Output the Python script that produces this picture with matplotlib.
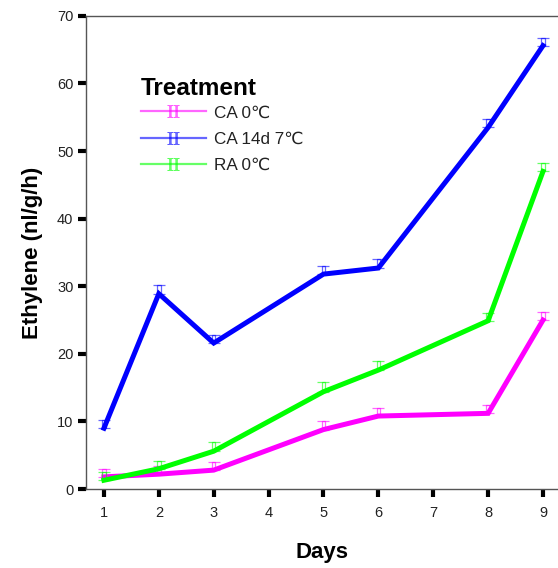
"""
Ethylene production over storage days, three treatments with upper error bars.
Output: out.png
"""

import matplotlib.pyplot as plt
from matplotlib.lines import Line2D

plt.rcParams["font.family"] = ["Liberation Sans", "DejaVu Sans"]
plt.rcParams["mathtext.fontset"] = "stix"

DAYS = [1, 2, 3, 5, 6, 8, 9]

TREATMENTS = ["CA 0\u2103", "CA 14d 7\u2103", "RA 0\u2103"]
COLORS = ["#ff00ff", "#0000ff", "#00ff00"]

CA_0 = [1.8, 2.2, 2.8, 8.8, 10.8, 11.2, 25.0]
CA_0_ERR = [1.2, 1.2, 1.2, 1.3, 1.2, 1.2, 1.2]

CA_14D_7 = [9.0, 28.9, 21.6, 31.8, 32.7, 53.5, 65.6]
CA_14D_7_ERR = [1.2, 1.3, 1.2, 1.2, 1.3, 1.2, 1.2]

RA_0 = [1.3, 3.0, 5.6, 14.4, 17.6, 24.9, 47.0]
RA_0_ERR = [1.2, 1.2, 1.3, 1.4, 1.3, 1.2, 1.2]

X_TICKS = list(range(1, 10))
Y_TICKS = list(range(0, 71, 10))


def main():
    fig = plt.figure(figsize=(5.58, 5.68), dpi=100)
    ax = fig.add_axes([0.154, 0.139, 0.846, 0.833])

    series = [(CA_0, CA_0_ERR), (CA_14D_7, CA_14D_7_ERR), (RA_0, RA_0_ERR)]
    zorders = [3, 5, 4]

    for (vals, errs), color, z in zip(series, COLORS, zorders):
        ax.plot(DAYS, vals, color=color, lw=3.6, solid_joinstyle="miter", zorder=z)
        # double-stemmed upper error bar: hollow narrow bar + caps at both ends
        ax.bar(DAYS, errs, bottom=vals, width=0.065, fill=False,
               edgecolor=color, lw=0.9, alpha=0.6, zorder=z - 0.5)
        ax.errorbar(DAYS, vals, yerr=[[0] * len(errs), errs], fmt="none",
                    ecolor=color, elinewidth=0, capsize=4.3, capthick=0.9,
                    alpha=0.6, zorder=z - 0.5)

    ax.set_xlim(0.672, 9.273)
    ax.set_ylim(0, 70)
    ax.set_xticks(X_TICKS)
    ax.set_yticks(Y_TICKS)

    for side in ["left", "top", "bottom"]:
        ax.spines[side].set_color("#555555")
        ax.spines[side].set_linewidth(1.0)
    ax.spines["right"].set_visible(False)

    ax.tick_params(axis="both", direction="out", length=6, width=3,
                   color="black", labelsize=10.5, labelcolor="#222222")
    ax.tick_params(axis="x", pad=6)
    ax.tick_params(axis="y", pad=3)

    ax.set_xlabel("Days", fontsize=16, fontweight="bold", labelpad=16)
    ax.set_ylabel("Ethylene (nl/g/h)", fontsize=16, fontweight="bold", labelpad=10)

    handles = [
        Line2D([], [], color=c, lw=1.6, alpha=0.6,
               marker=r"$\mathrm{II}$", markersize=9, markeredgewidth=0.3)
        for c in COLORS
    ]
    leg = ax.legend(handles, TREATMENTS, title="Treatment", loc="upper left",
                    bbox_to_anchor=(0.116, 0.87), frameon=False,
                    handlelength=3.8, handletextpad=0.5, labelspacing=0.65,
                    borderaxespad=0, borderpad=0, fontsize=12.3,
                    alignment="left")
    leg.get_title().set_fontsize(17.5)
    leg.get_title().set_fontweight("bold")
    leg._legend_box.sep = 3.6  # tighter gap between title and entries
    for t in leg.get_texts():
        t.set_color("#222222")

    fig.savefig("out.png", dpi=100)
    plt.close(fig)


if __name__ == "__main__":
    main()
